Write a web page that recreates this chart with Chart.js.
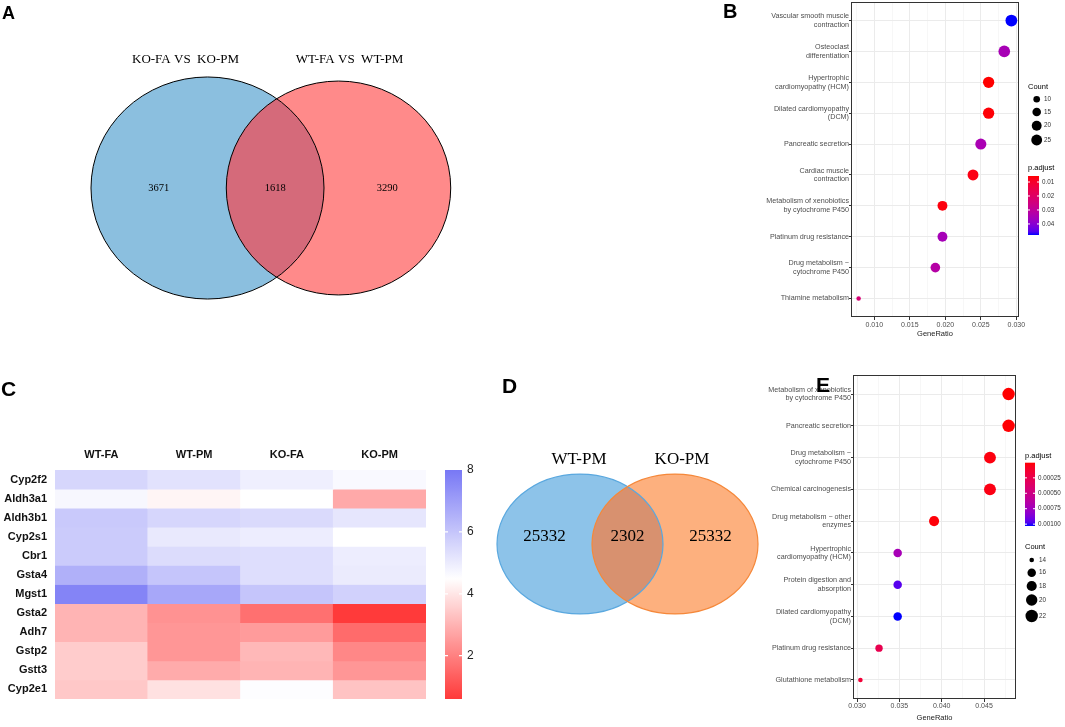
<!DOCTYPE html>
<html>
<head>
<meta charset="utf-8">
<script src="https://cdn.jsdelivr.net/npm/chart.js@4.4.1/dist/chart.umd.min.js"></script>
<style>
body{margin:0;background:#fff;width:1065px;height:727px;position:relative;overflow:hidden}
.box{position:absolute}
.box canvas{display:block}
.tag{position:absolute;font-family:Arial,"Liberation Sans",sans-serif;font-weight:bold;line-height:1;color:#000}
</style>
</head>
<body>
<div class="box" style="left:0;top:0"><canvas id="vennA" width="520" height="345"></canvas></div>
<div class="box" style="left:700px;top:0"><canvas id="dotB" width="365" height="345"></canvas></div>
<div class="box" style="left:0;top:370px"><canvas id="heatC" width="480" height="345"></canvas></div>
<div class="box" style="left:480px;top:370px"><canvas id="vennD" width="300" height="300"></canvas></div>
<div class="box" style="left:700px;top:370px"><canvas id="dotE" width="365" height="357"></canvas></div>
<div class="tag" style="left:2px;top:4px;font-size:18px">A</div>
<div class="tag" style="left:723px;top:1px;font-size:20px">B</div>
<div class="tag" style="left:1px;top:378px;font-size:21px">C</div>
<div class="tag" style="left:502px;top:375px;font-size:21px">D</div>
<div class="tag" style="left:816px;top:374px;font-size:21px">E</div>
<script>
// ---- data ----
var vennA_names = ['KO-FA VS  KO-PM', 'WT-FA VS  WT-PM'];
var vennA_counts = [3671, 1618, 3290];   // left only, shared, right only
var vennD_names = ['WT-PM', 'KO-PM'];
var vennD_counts = [25332, 2302, 25332];

var bTerms = [
  ['Vascular smooth muscle', 'contraction'],
  ['Osteoclast', 'differentiation'],
  ['Hypertrophic', 'cardiomyopathy (HCM)'],
  ['Dilated cardiomyopathy', '(DCM)'],
  'Pancreatic secretion',
  ['Cardiac muscle', 'contraction'],
  ['Metabolism of xenobiotics', 'by cytochrome P450'],
  'Platinum drug resistance',
  ['Drug metabolism \u2212', 'cytochrome P450'],
  'Thiamine metabolism'
];
var bGeneRatio = [0.0293, 0.0283, 0.0261, 0.0261, 0.0250, 0.0239, 0.0196, 0.0196, 0.0186, 0.0078];
var bCount = [30, 29, 27, 27, 26, 25, 20, 20, 19, 8];
var bPadj = [0.0479, 0.0350, 0.0057, 0.0061, 0.0345, 0.0072, 0.0066, 0.0352, 0.0320, 0.0228];
var bCountTicks = [10, 15, 20, 25];
var bPadjTicks = [0.01, 0.02, 0.03, 0.04];

var eTerms = [
  ['Metabolism of xenobiotics', 'by cytochrome P450'],
  'Pancreatic secretion',
  ['Drug metabolism \u2212', 'cytochrome P450'],
  'Chemical carcinogenesis',
  ['Drug metabolism \u2212 other', 'enzymes'],
  ['Hypertrophic', 'cardiomyopathy (HCM)'],
  ['Protein digestion and', 'absorption'],
  ['Dilated cardiomyopathy', '(DCM)'],
  'Platinum drug resistance',
  'Glutathione metabolism'
];
var eGeneRatio = [0.0479, 0.0479, 0.0457, 0.0457, 0.0391, 0.0348, 0.0348, 0.0348, 0.0326, 0.0304];
var eCount = [22, 22, 21, 21, 18, 16, 16, 16, 15, 14];
var ePadj = [0.000005, 0.00001, 0.00003, 0.00004, 0.00002, 0.00072, 0.00096, 0.00103, 0.00026, 0.00016];
var eCountTicks = [14, 16, 18, 20, 22];
var ePadjTicks = [0.00025, 0.0005, 0.00075, 0.001];

var hmCols = ['WT-FA', 'WT-PM', 'KO-FA', 'KO-PM'];
var hmGenes = ['Cyp2f2', 'Aldh3a1', 'Aldh3b1', 'Cyp2s1', 'Cbr1', 'Gsta4', 'Mgst1', 'Gsta2', 'Adh7', 'Gstp2', 'Gstt3', 'Cyp2e1'];
var hmWTFA = [5.57, 4.70, 5.90, 5.85, 5.85, 6.55, 7.70, 3.01, 3.01, 3.49, 3.49, 3.42];
var hmWTPM = [5.25, 4.30, 5.57, 5.08, 5.41, 6.01, 6.77, 2.35, 2.42, 2.42, 2.83, 3.90];
var hmKOFA = [4.92, 4.50, 5.46, 4.97, 5.35, 5.35, 6.01, 1.66, 2.53, 3.09, 3.01, 4.55];
var hmKOPM = [4.65, 2.79, 5.14, 4.50, 4.97, 5.03, 5.68, 0.60, 1.57, 2.12, 2.42, 3.31];
var hmTicks = [2, 4, 6, 8];

// ---- styles ----
var FONT_S = '"Liberation Sans", Arial, sans-serif';
var FONT_T = '"Liberation Serif", "Times New Roman", serif';
var HM_MIN = 0.6, HM_MID = 4.5, HM_MAX = 8;
var HEAT_LO = [255, 58, 58], HEAT_MID = [255, 255, 255], HEAT_HI = [120, 120, 245];

// colour helpers (red -> blue through Lab like ggplot)
function lin(c){ c /= 255; return c <= 0.04045 ? c / 12.92 : Math.pow((c + 0.055) / 1.055, 2.4); }
function gam(c){ c = c <= 0.0031308 ? 12.92 * c : 1.055 * Math.pow(c, 1 / 2.4) - 0.055; return Math.round(Math.max(0, Math.min(1, c)) * 255); }
function rgbLab(rgb){
  var r = lin(rgb[0]), g = lin(rgb[1]), b = lin(rgb[2]);
  var X = (0.4124 * r + 0.3576 * g + 0.1805 * b) / 0.95047;
  var Y = 0.2126 * r + 0.7152 * g + 0.0722 * b;
  var Z = (0.0193 * r + 0.1192 * g + 0.9505 * b) / 1.08883;
  function f(t){ return t > 0.008856 ? Math.cbrt(t) : 7.787 * t + 16 / 116; }
  return [116 * f(Y) - 16, 500 * (f(X) - f(Y)), 200 * (f(Y) - f(Z))];
}
function labRgb(lab){
  var fy = (lab[0] + 16) / 116, fx = fy + lab[1] / 500, fz = fy - lab[2] / 200;
  function fi(t){ return t * t * t > 0.008856 ? t * t * t : (t - 16 / 116) / 7.787; }
  var X = fi(fx) * 0.95047, Y = fi(fy), Z = fi(fz) * 1.08883;
  var r = 3.2406 * X - 1.5372 * Y - 0.4986 * Z;
  var g = -0.9689 * X + 1.8758 * Y + 0.0415 * Z;
  var b = 0.0557 * X - 0.2040 * Y + 1.0570 * Z;
  return 'rgb(' + gam(r) + ',' + gam(g) + ',' + gam(b) + ')';
}
var LAB_LO = rgbLab([255, 0, 0]), LAB_HI = rgbLab([0, 0, 255]);
function padjColor(p, lo, hi){
  var t = Math.max(0, Math.min(1, (p - lo) / (hi - lo)));
  return labRgb(LAB_LO.map(function(v, i){ return v + (LAB_HI[i] - v) * t; }));
}
function heatColor(v){
  var a, b, t;
  if (v < HM_MID) { a = HEAT_LO; b = HEAT_MID; t = (v - HM_MIN) / (HM_MID - HM_MIN); }
  else { a = HEAT_MID; b = HEAT_HI; t = (v - HM_MID) / (HM_MAX - HM_MID); }
  t = Math.max(0, Math.min(1, t));
  return 'rgb(' + a.map(function(c, i){ return Math.round(c + (b[i] - c) * t); }).join(',') + ')';
}
// vertical axes: don't let label half-heights push the plot area around
function noPad(s){ s.paddingTop = 0; s.paddingBottom = 0; }

// ---- venn ----
function vennChart(id, names, counts, g){
  new Chart(document.getElementById(id), {
    type: 'scatter',
    data: { datasets: [] },
    options: {
      animation: false, responsive: false,
      layout: { padding: 0 },
      plugins: { legend: { display: false }, tooltip: { enabled: false } },
      scales: {
        x: { display: false, min: 0, max: g.w },
        y: { display: false, min: 0, max: g.h, reverse: true }
      }
    },
    plugins: [{
      id: 'venn',
      afterDraw: function(chart){
        var ctx = chart.ctx, xs = chart.scales.x, ys = chart.scales.y;
        var r1 = g.k * Math.sqrt(counts[0] + counts[1]);
        var r2 = g.k * Math.sqrt(counts[2] + counts[1]);
        var c1 = g.cx, c2 = g.cx + g.dist;
        function ell(c, r){
          var x = xs.getPixelForValue(c), y = ys.getPixelForValue(g.cy);
          var rx = xs.getPixelForValue(c + r) - x;
          var ry = Math.abs(ys.getPixelForValue(g.cy + r * g.aspect) - y);
          ctx.beginPath(); ctx.ellipse(x, y, rx, ry, 0, 0, Math.PI * 2);
        }
        ctx.save();
        ell(c1, r1); ctx.fillStyle = g.fill[0]; ctx.fill();
        ell(c2, r2); ctx.fillStyle = g.fill[1]; ctx.fill();
        ctx.save(); ell(c1, r1); ctx.clip();
        ell(c2, r2); ctx.fillStyle = g.fill[2]; ctx.fill();
        ctx.restore();
        ctx.lineWidth = g.lw;
        ell(c1, r1); ctx.strokeStyle = g.stroke[0]; ctx.stroke();
        ell(c2, r2); ctx.strokeStyle = g.stroke[1]; ctx.stroke();
        ctx.fillStyle = '#000';
        ctx.textAlign = 'center'; ctx.textBaseline = 'middle';
        ctx.font = g.nameSize + 'px ' + FONT_T;
        ctx.fillText(names[0], xs.getPixelForValue(c1 + g.labDx[0]), ys.getPixelForValue(g.labY));
        ctx.fillText(names[1], xs.getPixelForValue(c2 + g.labDx[1]), ys.getPixelForValue(g.labY));
        var l1 = c1 - r1, l2 = c2 - r2, e1 = c1 + r1, e2 = c2 + r2;
        var spots = [(l1 + l2) / 2, (l2 + e1) / 2, (e1 + e2) / 2];
        ctx.font = g.countSize + 'px ' + FONT_T;
        spots.forEach(function(x, i){
          ctx.fillText(String(counts[i]), xs.getPixelForValue(x), ys.getPixelForValue(g.cy + g.cntDy));
        });
        ctx.restore();
      }
    }]
  });
}

vennChart('vennA', vennA_names, vennA_counts, {
  w: 520, h: 345, cx: 207.5, dist: 131, cy: 188, k: 1.602, aspect: 0.953,
  labY: 60, labDx: [-22, 11], cntDy: 0, nameSize: 13, countSize: 10.5, lw: 1,
  fill: ['#8BBFDF', '#FF8A8A', '#D56A7A'], stroke: ['#000', '#000']
});
vennChart('vennD', vennD_names, vennD_counts, {
  w: 300, h: 300, cx: 100, dist: 95, cy: 174, k: 0.4993, aspect: 0.843,
  labY: 90, labDx: [-1, 7], cntDy: -7, nameSize: 17, countSize: 17, lw: 1.2,
  fill: ['#8DC3E9', '#FDB07E', '#D8916F'], stroke: ['#5AA8DF', '#F5883A']
});

// ---- dot plots ----
var frame = {
  id: 'frame',
  afterDraw: function(chart){
    var a = chart.chartArea, ctx = chart.ctx;
    ctx.save(); ctx.strokeStyle = '#333'; ctx.lineWidth = 1;
    ctx.strokeRect(Math.round(a.left) + 0.5, Math.round(a.top) + 0.5, Math.round(a.right - a.left) - 1, Math.round(a.bottom - a.top) - 1);
    ctx.restore();
  }
};

function dotChart(id, terms, ratio, count, padj, countTicks, padjTicks, o){
  var lo = Math.min.apply(null, padj), hi = Math.max.apply(null, padj);
  var cmin = Math.min.apply(null, count), cmax = Math.max.apply(null, count);
  var size = function(c){ return o.rMin + (o.rMax - o.rMin) * Math.sqrt(Math.max(0, c - cmin) / (cmax - cmin)); };
  var xmin = Math.min.apply(null, ratio), xmax = Math.max.apply(null, ratio), ex = (xmax - xmin) * 0.05;
  var isMajor = function(v){ return Math.abs(v / o.major - Math.round(v / o.major)) < 1e-6; };

  var legend = {
    id: 'dotLegend',
    afterDraw: function(chart){
      var ctx = chart.ctx, R = chart.chartArea.right;
      ctx.save();
      ctx.textBaseline = 'middle'; ctx.textAlign = 'left';
      ctx.fillStyle = '#000';
      ctx.font = '7.5px ' + FONT_S;
      ctx.fillText('Count', R + 9, o.countTitleY);
      ctx.fillText('p.adjust', R + 9, o.padjTitleY);
      ctx.font = '6.3px ' + FONT_S;
      countTicks.forEach(function(c, i){
        ctx.fillStyle = '#000';
        ctx.beginPath(); ctx.arc(R + o.circX, o.countYs[i], size(c), 0, Math.PI * 2); ctx.fill();
        ctx.fillStyle = '#333';
        ctx.fillText(String(c), R + o.countLabX, o.countYs[i]);
      });
      var x0 = R + 9, x1 = R + 9 + o.barW, y0 = o.barTop, y1 = o.barBottom;
      var grad = ctx.createLinearGradient(0, y0, 0, y1);
      for (var k = 0; k <= 20; k++) grad.addColorStop(k / 20, padjColor(lo + (hi - lo) * k / 20, lo, hi));
      ctx.fillStyle = grad; ctx.fillRect(x0, y0, x1 - x0, y1 - y0);
      padjTicks.forEach(function(p){
        var y = y0 + (p - lo) / (hi - lo) * (y1 - y0);
        ctx.strokeStyle = '#fff'; ctx.lineWidth = 1;
        ctx.beginPath(); ctx.moveTo(x0, y); ctx.lineTo(x0 + 2, y); ctx.moveTo(x1 - 2, y); ctx.lineTo(x1, y); ctx.stroke();
        ctx.fillStyle = '#333';
        ctx.fillText(p.toFixed(o.padjDigits), R + o.barLabX, y);
      });
      ctx.restore();
    }
  };

  return new Chart(document.getElementById(id), {
    type: 'scatter',
    data: {
      datasets: [{
        data: terms.map(function(t, i){ return { x: ratio[i], y: i }; }),
        pointRadius: function(c){ return size(count[c.dataIndex]); },
        pointHoverRadius: function(c){ return size(count[c.dataIndex]); },
        pointBackgroundColor: function(c){ return padjColor(padj[c.dataIndex], lo, hi); },
        pointBorderWidth: 0
      }]
    },
    options: {
      animation: false, responsive: false,
      layout: { autoPadding: false, padding: { top: o.padTop, right: o.padRight, bottom: 0, left: 0 } },
      plugins: { legend: { display: false }, tooltip: { enabled: false } },
      scales: {
        x: {
          type: 'linear', min: xmin - ex, max: xmax + ex,
          afterBuildTicks: function(s){
            var t = [];
            for (var v = Math.ceil(s.min / o.minor - 1e-9) * o.minor; v <= s.max + 1e-12; v += o.minor) t.push({ value: +v.toFixed(6) });
            s.ticks = t;
          },
          afterFit: function(s){ s.height = o.xHeight; s.paddingLeft = 0; s.paddingRight = 0; },
          grid: {
            color: function(c){ return c.tick && isMajor(c.tick.value) ? '#EBEBEB' : '#F2F2F2'; },
            lineWidth: function(c){ return c.tick && isMajor(c.tick.value) ? 1 : 0.6; },
            tickColor: function(c){ return c.tick && isMajor(c.tick.value) ? '#333' : 'rgba(0,0,0,0)'; },
            tickLength: 3
          },
          border: { display: false },
          ticks: {
            autoSkip: false, maxRotation: 0, padding: o.xPad, color: '#4D4D4D',
            font: { family: FONT_S, size: 7 },
            callback: function(v){ return isMajor(v) ? v.toFixed(3) : ''; }
          },
          title: { display: true, text: 'GeneRatio', color: '#222', font: { family: FONT_S, size: 7.5 }, padding: { top: o.titlePad, bottom: o.titlePad } }
        },
        y: {
          type: 'linear', reverse: true, min: -0.6, max: terms.length - 0.4,
          afterBuildTicks: function(s){ s.ticks = terms.map(function(t, i){ return { value: i }; }); },
          afterFit: function(s){ s.width = o.yWidth; noPad(s); },
          grid: { color: '#EBEBEB', lineWidth: 1, tickColor: '#333', tickLength: 2 },
          border: { display: false },
          ticks: {
            autoSkip: false, padding: 0, color: '#4D4D4D',
            font: { family: FONT_S, size: 7.2, lineHeight: 1.2 },
            callback: function(v, i){ return terms[i]; }
          }
        }
      }
    },
    plugins: [frame, legend]
  });
}

dotChart('dotB', bTerms, bGeneRatio, bCount, bPadj, bCountTicks, bPadjTicks, {
  rMin: 2.2, rMax: 5.9, major: 0.005, minor: 0.0025,
  padTop: 2, padRight: 46, xHeight: 28, yWidth: 151, xPad: 1, titlePad: 7,
  countTitleY: 87, countYs: [99.3, 112, 125.7, 140], circX: 17.7, countLabX: 25,
  padjTitleY: 168, barTop: 176, barBottom: 235, barW: 11, barLabX: 23, padjDigits: 2
});
dotChart('dotE', eTerms, eGeneRatio, eCount, ePadj, eCountTicks, ePadjTicks, {
  rMin: 2.3, rMax: 6.2, major: 0.005, minor: 0.0025,
  padTop: 5, padRight: 49, xHeight: 28, yWidth: 153, xPad: 0, titlePad: 5,
  countTitleY: 176.7, countYs: [190, 202.7, 216, 230, 246], circX: 15.7, countLabX: 23,
  padjTitleY: 86, barTop: 92.7, barBottom: 156, barW: 10, barLabX: 22, padjDigits: 5
});

// ---- heatmap ----
var hmByCol = [hmWTFA, hmWTPM, hmKOFA, hmKOPM];
new Chart(document.getElementById('heatC'), {
  type: 'bar',
  data: {
    labels: hmCols,
    datasets: hmGenes.map(function(g, i){
      return {
        label: g,
        data: hmCols.map(function(){ return [i, i + 1]; }),
        backgroundColor: hmByCol.map(function(col){ return heatColor(col[i]); }),
        borderWidth: 0
      };
    })
  },
  options: {
    animation: false, responsive: false,
    datasets: { bar: { grouped: false, barPercentage: 1, categoryPercentage: 1 } },
    layout: { padding: { top: 0, right: 0, bottom: 16, left: 0 } },
    plugins: { legend: { display: false }, tooltip: { enabled: false } },
    scales: {
      x: {
        position: 'top',
        grid: { display: false, drawTicks: false }, border: { display: false },
        afterFit: function(s){ s.height = 100; s.paddingLeft = 0; s.paddingRight = 0; },
        ticks: { padding: 8, color: '#111', font: { family: FONT_S, size: 11, weight: 'bold' } }
      },
      y: {
        type: 'linear', min: 0, max: hmGenes.length, reverse: true,
        afterBuildTicks: function(s){ s.ticks = hmGenes.map(function(g, i){ return { value: i + 0.5 }; }); },
        afterFit: function(s){ s.width = 55; noPad(s); },
        grid: { display: false, drawTicks: false }, border: { display: false },
        ticks: { autoSkip: false, padding: 8, color: '#111', font: { family: FONT_S, size: 11, weight: 'bold' },
          callback: function(v, i){ return hmGenes[i]; } }
      },
      yc: {
        type: 'linear', position: 'right', min: HM_MIN, max: HM_MAX,
        afterBuildTicks: function(s){ s.ticks = hmTicks.map(function(v){ return { value: v }; }); },
        afterFit: function(s){ s.width = 54; noPad(s); },
        grid: { display: false, drawTicks: true, tickLength: 41 }, border: { display: false },
        ticks: { padding: 0, color: '#222', font: { family: FONT_S, size: 12 } }
      }
    }
  },
  plugins: [{
    id: 'colorbar',
    afterDraw: function(chart){
      var ctx = chart.ctx, s = chart.scales.yc;
      var x0 = chart.chartArea.right + 19, w = 17;
      var yTop = s.getPixelForValue(HM_MAX), yBot = s.getPixelForValue(HM_MIN);
      var grad = ctx.createLinearGradient(0, yBot, 0, yTop);
      for (var k = 0; k <= 40; k++) grad.addColorStop(k / 40, heatColor(HM_MIN + (HM_MAX - HM_MIN) * k / 40));
      ctx.save();
      ctx.fillStyle = grad; ctx.fillRect(x0, yTop, w, yBot - yTop);
      ctx.strokeStyle = '#fff'; ctx.lineWidth = 1.2;
      hmTicks.forEach(function(v){
        if (v >= HM_MAX) return;
        var y = s.getPixelForValue(v);
        ctx.beginPath(); ctx.moveTo(x0, y); ctx.lineTo(x0 + 3, y); ctx.moveTo(x0 + w - 3, y); ctx.lineTo(x0 + w, y); ctx.stroke();
      });
      ctx.restore();
    }
  }]
});
</script>
</body>
</html>
